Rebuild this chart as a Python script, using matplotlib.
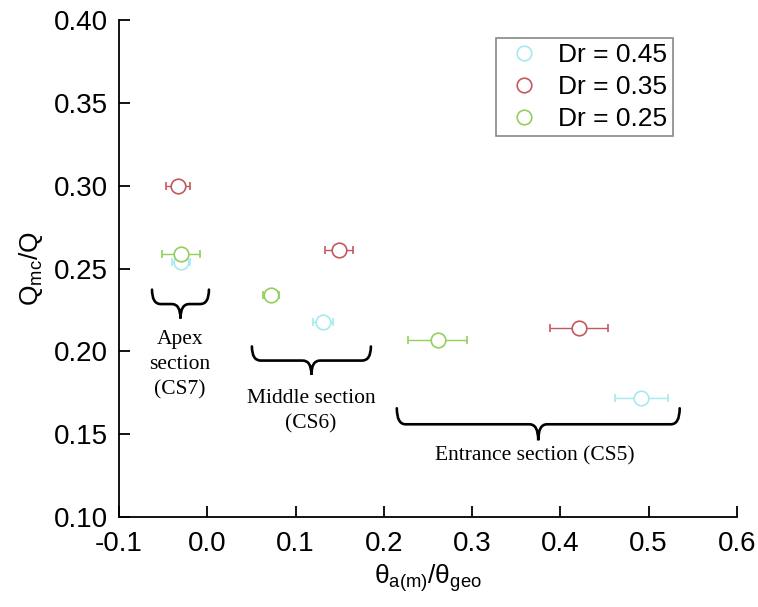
# discharge ratio vs. angle ratio for three Dr values, with section braces
import numpy as np
import matplotlib
matplotlib.use('Agg')
import matplotlib.pyplot as plt
from matplotlib.path import Path
from matplotlib.patches import PathPatch
from matplotlib.lines import Line2D

plt.rcParams['font.family'] = 'Liberation Sans'
plt.rcParams['mathtext.fontset'] = 'custom'
plt.rcParams['mathtext.rm'] = 'Liberation Sans'
plt.rcParams['mathtext.it'] = 'Liberation Sans:italic'

# Dr = 0.45
x45 = [-0.030, 0.131, 0.492]
y45 = [0.254, 0.218, 0.172]
xerr45 = [0.010, 0.011, 0.030]
# Dr = 0.35
x35 = [-0.033, 0.149, 0.421]
y35 = [0.300, 0.261, 0.214]
xerr35 = [0.0135, 0.016, 0.033]
# Dr = 0.25
x25 = [-0.030, 0.072, 0.261]
y25 = [0.259, 0.234, 0.207]
xerr25 = [0.0215, 0.009, 0.033]

labels = ['Dr = 0.45', 'Dr = 0.35', 'Dr = 0.25']
colors = ['#a6eaf0', '#c4585c', '#94cf5c']

# section braces: x start, x end, top y, tip y
sections = ['Apex\nsection\n(CS7)', 'Middle section\n(CS6)', 'Entrance section (CS5)']
brace_x0 = [-0.0626, 0.0506, 0.2148]
brace_x1 = [0.0019, 0.1854, 0.5353]
brace_top = [0.2373, 0.2030, 0.1657]
brace_tip = [0.2199, 0.1860, 0.1464]
text_x = [-0.031, 0.1175, 0.371]
text_y = [0.1920, 0.1640, 0.1370]


def draw_brace(ax, x0, x1, ytop, ytip, r=0.010):
    ybar = (ytop + ytip) / 2
    xc = (x0 + x1) / 2
    verts = [(x0, ytop), (x0, ybar), (x0 + r, ybar),
             (xc - r, ybar),
             (xc, ybar), (xc, ytip),
             (xc, ybar), (xc + r, ybar),
             (x1 - r, ybar),
             (x1, ybar), (x1, ytop)]
    codes = [Path.MOVETO, Path.CURVE3, Path.CURVE3,
             Path.LINETO,
             Path.CURVE3, Path.CURVE3,
             Path.CURVE3, Path.CURVE3,
             Path.LINETO,
             Path.CURVE3, Path.CURVE3]
    ax.add_patch(PathPatch(Path(verts, codes), facecolor='none',
                           edgecolor='black', lw=1.9, capstyle='round'))


fig = plt.figure(figsize=(7.58, 6.07), dpi=100)
ax = fig.add_axes([0.157, 0.148, 0.815, 0.819])

series = [(x45, y45, xerr45), (x35, y35, xerr35), (x25, y25, xerr25)]
for (xs, ys, xe), col in zip(series, colors):
    ax.errorbar(xs, ys, xerr=xe, fmt='o', color=col, mfc='white', mec=col,
                ms=10.5, mew=1.2, elinewidth=1.0, capsize=3.0, capthick=1.0)

for i in range(len(sections)):
    draw_brace(ax, brace_x0[i], brace_x1[i], brace_top[i], brace_tip[i])
    ax.text(text_x[i], text_y[i], sections[i], ha='center', va='center',
            family='Liberation Serif', fontsize=15.5, linespacing=1.4)

ax.set_xlim(-0.1, 0.6)
ax.set_ylim(0.10, 0.40)
ax.set_xticks(np.arange(-0.1, 0.61, 0.1))
ax.set_xticklabels(['-0.1', '0.0', '0.1', '0.2', '0.3', '0.4', '0.5', '0.6'])
ax.set_yticks(np.arange(0.10, 0.401, 0.05))
ax.set_yticklabels(['0.10', '0.15', '0.20', '0.25', '0.30', '0.35', '0.40'])
ax.spines['top'].set_visible(False)
ax.spines['right'].set_visible(False)
for s in ['left', 'bottom']:
    ax.spines[s].set_linewidth(1.3)
ax.tick_params(direction='in', length=8, width=1.3, labelsize=20)
ax.tick_params(axis='x', pad=10)
ax.tick_params(axis='y', pad=8)

ax.set_xlabel(r'$\mathrm{\theta_{a(m)}/\theta_{geo}}$', fontsize=19, labelpad=4)
ax.set_ylabel(r'$\mathrm{Q_{mc}/Q}$', fontsize=19, labelpad=6)

handles = [Line2D([], [], ls='none', marker='o', ms=10.5, mfc='white',
                  mec=c, mew=1.2) for c in colors]
leg = ax.legend(handles, labels, loc='upper right', bbox_to_anchor=(0.896, 0.964),
                borderaxespad=0, fontsize=19, frameon=True, fancybox=False,
                edgecolor='#888888', framealpha=1, handletextpad=0.45,
                borderpad=0.2, labelspacing=0.3, handlelength=1.7)
leg.get_frame().set_linewidth(1.2)

plt.savefig('out.png', dpi=100)
plt.close()
